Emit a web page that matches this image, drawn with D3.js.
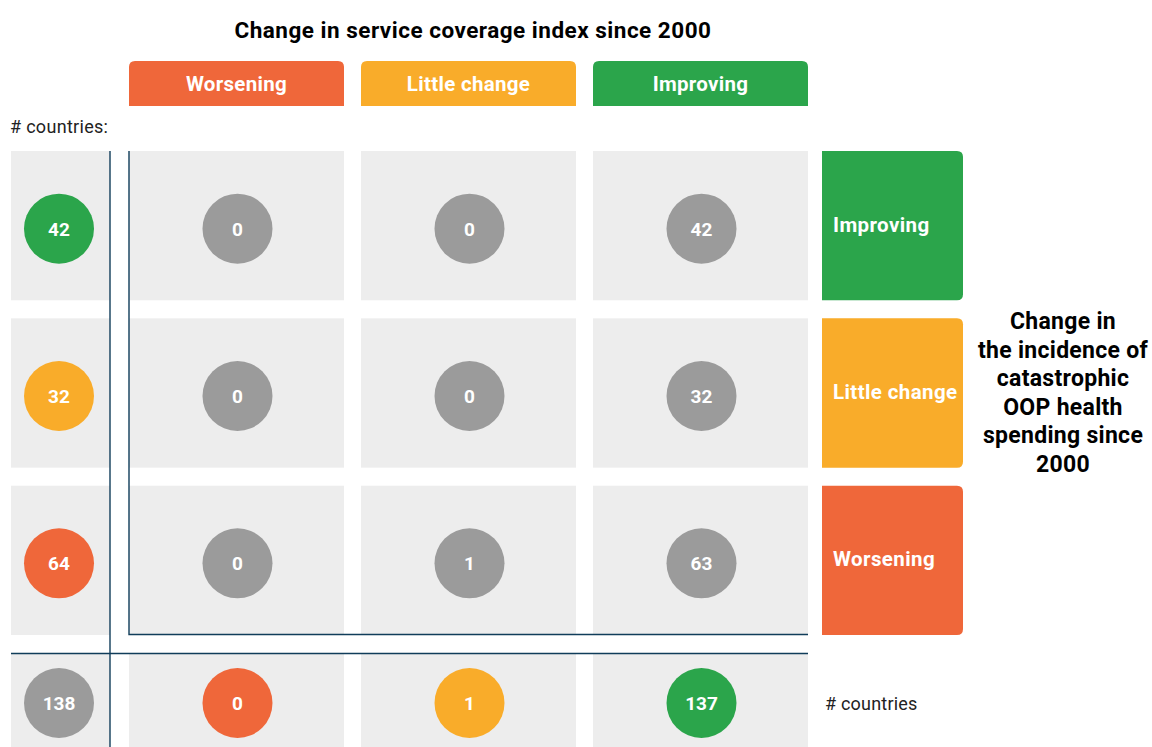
<!DOCTYPE html>
<html>
<head>
<meta charset="utf-8">
<script src="https://cdn.jsdelivr.net/npm/d3@7"></script>
<style>
  body { margin: 0; background: #fff; }
  svg { display: block; font-family: Roboto, "Noto Sans", sans-serif; }
</style>
</head>
<body>
<svg width="1152" height="747"></svg>
<script>
// columns: change in service coverage index, rows: change in catastrophic OOP spending
const colCats = ["Worsening", "Little change", "Improving"];
const rowCats = ["Improving", "Little change", "Worsening"];
const cellValues = [
    [0, 0, 42],
    [0, 0, 32],
    [0, 1, 63]
];
const rowTotals = [42, 32, 64];
const colTotals = [0, 1, 137];
const grandTotal = 138;

const catColor = { "Worsening": "#ef673a", "Little change": "#f9ac2a", "Improving": "#2ba54b" };
const grey = "#9b9b9b";
const cellBg = "#ededed";
const lineColor = "#103d5a";

const svg = d3.select("svg");

const x = d3.scaleBand().domain(colCats).range([129, 808]).paddingInner(0.0733);
const y = d3.scaleBand().domain(rowCats).range([151, 635]).paddingInner(0.108);

const totX = [11, 110];   // left totals column
const totY = [654, 760];  // bottom totals row
const r = 35;

// rounded-top / rounded-right rect paths
function topRounded(x0, y0, w, h, rr) {
    return `M${x0},${y0 + h}V${y0 + rr}Q${x0},${y0} ${x0 + rr},${y0}H${x0 + w - rr}Q${x0 + w},${y0} ${x0 + w},${y0 + rr}V${y0 + h}Z`;
}
function rightRounded(x0, y0, w, h, rr) {
    return `M${x0},${y0}H${x0 + w - rr}Q${x0 + w},${y0} ${x0 + w},${y0 + rr}V${y0 + h - rr}Q${x0 + w},${y0 + h} ${x0 + w - rr},${y0 + h}H${x0}Z`;
}

// title
svg.append("text")
    .attr("x", 473).attr("y", 38)
    .attr("text-anchor", "middle")
    .attr("font-size", 22.5).attr("font-weight", "bold")
    .attr("letter-spacing", 0.5)
    .text("Change in service coverage index since 2000");

// column header tabs
const header = svg.append("g").selectAll("g")
    .data(colCats).enter().append("g");
header.append("path")
    .attr("d", d => topRounded(x(d), 61, x.bandwidth(), 45, 6))
    .attr("fill", d => catColor[d]);
header.append("text")
    .attr("x", d => x(d) + x.bandwidth() / 2).attr("y", 91)
    .attr("text-anchor", "middle")
    .attr("font-size", 20.5).attr("font-weight", "bold")
    .attr("letter-spacing", 0.3)
    .attr("fill", "#fff")
    .text(d => d);

svg.append("text")
    .attr("x", 10).attr("y", 133)
    .attr("font-size", 18).attr("fill", "#222")
    .attr("letter-spacing", 0.3)
    .text("# countries:");

// backgrounds
const bg = svg.append("g");
rowCats.forEach(rc => {
    bg.append("rect")
        .attr("x", totX[0]).attr("y", y(rc))
        .attr("width", totX[1] - totX[0]).attr("height", y.bandwidth())
        .attr("fill", cellBg);
    colCats.forEach(cc => {
        bg.append("rect")
            .attr("x", x(cc)).attr("y", y(rc))
            .attr("width", x.bandwidth()).attr("height", y.bandwidth())
            .attr("fill", cellBg);
    });
});
bg.append("rect")
    .attr("x", totX[0]).attr("y", totY[0])
    .attr("width", totX[1] - totX[0]).attr("height", totY[1] - totY[0])
    .attr("fill", cellBg);
colCats.forEach(cc => {
    bg.append("rect")
        .attr("x", x(cc)).attr("y", totY[0])
        .attr("width", x.bandwidth()).attr("height", totY[1] - totY[0])
        .attr("fill", cellBg);
});

// row label tabs on the right
const rowTab = svg.append("g").selectAll("g")
    .data(rowCats).enter().append("g");
rowTab.append("path")
    .attr("d", d => rightRounded(822, y(d), 141, y.bandwidth(), 6))
    .attr("fill", d => catColor[d]);
rowTab.append("text")
    .attr("x", 833).attr("y", d => y(d) + y.bandwidth() / 2 + 6)
    .attr("font-size", 20.5).attr("font-weight", "bold")
    .attr("letter-spacing", 0.4)
    .attr("fill", "#fff")
    .text(d => d);

// right axis title
const rightTitle = ["Change in", "the incidence of", "catastrophic", "OOP health", "spending since", "2000"];
svg.append("text")
    .attr("text-anchor", "middle")
    .attr("font-size", 23).attr("font-weight", "bold")
    .attr("letter-spacing", 0.3)
    .selectAll("tspan")
    .data(rightTitle).enter().append("tspan")
    .attr("x", 1063)
    .attr("y", (d, i) => 329 + i * 28.6)
    .text(d => d);

svg.append("text")
    .attr("x", 825).attr("y", 710)
    .attr("font-size", 18).attr("fill", "#222")
    .attr("letter-spacing", 0.2)
    .text("# countries");

// lines
const lines = svg.append("g").attr("stroke", lineColor).attr("stroke-width", 1.4).attr("fill", "none");
lines.append("line").attr("x1", 110).attr("x2", 110).attr("y1", 151).attr("y2", 747);
lines.append("line").attr("x1", 11).attr("x2", 808).attr("y1", 653.5).attr("y2", 653.5);
lines.append("path").attr("d", `M129,151V634.5H808`);

// circles
function bubble(g, cx, cy, value, fill) {
    g.append("circle").attr("cx", cx).attr("cy", cy).attr("r", r).attr("fill", fill);
    g.append("text")
        .attr("x", cx).attr("y", cy + 7)
        .attr("text-anchor", "middle")
        .attr("font-size", 19).attr("font-weight", "bold")
        .attr("fill", "#fff")
        .text(value);
}
const marks = svg.append("g");
const totCx = 59;
rowCats.forEach((rc, i) => {
    const cy = y(rc) + y.bandwidth() / 2 + 3;
    bubble(marks, totCx, cy, rowTotals[i], catColor[rc]);
    colCats.forEach((cc, j) => {
        bubble(marks, x(cc) + x.bandwidth() / 2 + 1, cy, cellValues[i][j], grey);
    });
});
const botCy = 703;
bubble(marks, totCx, botCy, grandTotal, grey);
colCats.forEach((cc, j) => {
    bubble(marks, x(cc) + x.bandwidth() / 2 + 1, botCy, colTotals[j], catColor[cc]);
});
</script>
</body>
</html>
